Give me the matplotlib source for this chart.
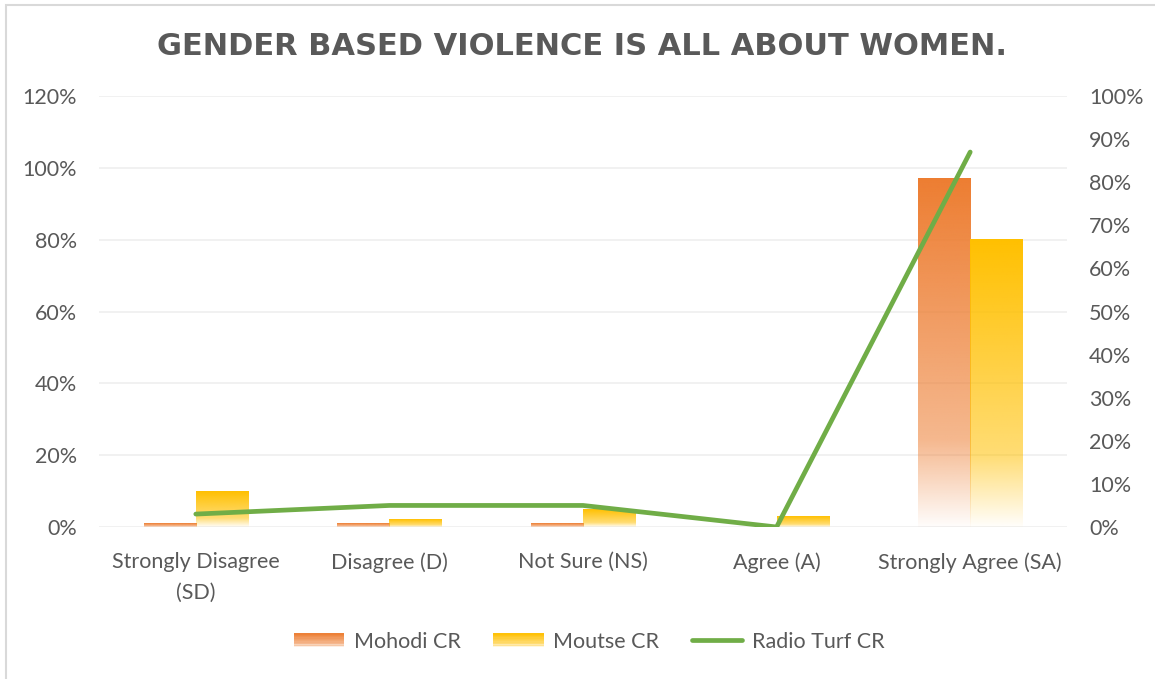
import numpy as np
import matplotlib
matplotlib.use("Agg")
import matplotlib.pyplot as plt
from matplotlib.patches import Rectangle
from matplotlib.legend_handler import HandlerBase
from matplotlib.lines import Line2D
from matplotlib.colors import to_rgb

# Survey responses
categories = ["Strongly Disagree\n(SD)", "Disagree (D)", "Not Sure (NS)", "Agree (A)", "Strongly Agree (SA)"]
mohodi = [0.01, 0.01, 0.01, 0.0, 0.97]
moutse = [0.10, 0.02, 0.05, 0.03, 0.80]
radio_turf = [0.03, 0.05, 0.05, 0.0, 0.87]

left_ticks = [0, 0.2, 0.4, 0.6, 0.8, 1.0, 1.2]
right_ticks = [0, 0.1, 0.2, 0.3, 0.4, 0.5, 0.6, 0.7, 0.8, 0.9, 1.0]

ORANGE = "#ED7D31"
GOLD = "#FFC000"
GREEN = "#70AD47"
TEXT = "#595959"
GRID = "#EFEFEF"
FONT = "Lato"
FS = 15.5


def fade(t):
    """Opacity of the bar fill, t = 0 at the top, 1 at the base."""
    t = np.asarray(t)
    return np.where(t < 0.75, 1.0 - 0.45 * t / 0.75, 0.55 - 0.53 * (t - 0.75) / 0.25)


def gradient_image(color, n=200):
    rgb = to_rgb(color)
    t = np.linspace(0, 1, n)
    img = np.zeros((n, 1, 4))
    img[:, 0, :3] = rgb
    img[:, 0, 3] = fade(t)
    return img


class GradientHandler(HandlerBase):
    def __init__(self, color):
        super().__init__()
        self.color = color

    def create_artists(self, legend, orig_handle, xdescent, ydescent,
                       width, height, fontsize, trans):
        arts = []
        n = 10
        for i in range(n):
            t = (i + 0.5) / n
            y = -ydescent + height * (1 - (i + 1) / n)
            r = Rectangle((-xdescent, y), width, height / n + 0.05,
                          facecolor=self.color, alpha=float(fade(t)),
                          edgecolor="none", transform=trans)
            arts.append(r)
        return arts


fig = plt.figure(figsize=(11.55, 6.79), dpi=100)
ax = fig.add_axes([99 / 1155, 1 - 527 / 679, (1067 - 99) / 1155, (527 - 96) / 679])
ax2 = ax.twinx()

x = np.arange(len(categories))
w = 0.27
bars1 = ax.bar(x - w / 2, mohodi, w, facecolor="none", edgecolor="none")
bars2 = ax.bar(x + w / 2, moutse, w, facecolor="none", edgecolor="none")

for bars, color in ((bars1, ORANGE), (bars2, GOLD)):
    img = gradient_image(color)
    for b in bars:
        h = b.get_height()
        if h <= 0:
            continue
        x0 = b.get_x()
        ax.imshow(img, extent=[x0, x0 + b.get_width(), 0, h], aspect="auto",
                  interpolation="bilinear", zorder=2)

ax.set_xlim(-0.5, len(categories) - 0.5)
ax.set_ylim(0, 1.2)
ax.set_yticks(left_ticks)
ax.set_yticklabels([f"{int(round(v * 100))}%" for v in left_ticks])
ax.yaxis.grid(True, color=GRID, linewidth=1.2)
ax.set_axisbelow(True)
ax.set_xticks(x)
ax.set_xticklabels(categories, linespacing=1.65)

ax2.plot(x, radio_turf, color=GREEN, linewidth=3.4, solid_capstyle="round",
         solid_joinstyle="miter", zorder=3)
ax2.set_ylim(0, 1.0)
ax2.set_yticks(right_ticks)
ax2.set_yticklabels([f"{int(round(v * 100))}%" for v in right_ticks])

for a in (ax, ax2):
    for s in a.spines.values():
        s.set_visible(False)
    a.tick_params(length=0, colors=TEXT, labelsize=FS)
    for lbl in a.get_xticklabels() + a.get_yticklabels():
        lbl.set_fontfamily(FONT)
ax.tick_params(axis="y", pad=16)
ax2.tick_params(axis="y", pad=16)
ax.tick_params(axis="x", pad=18)

fig.text(0.504, 0.932, "GENDER BASED VIOLENCE IS ALL ABOUT WOMEN.",
         ha="center", va="center", fontsize=22, fontweight="bold",
         color=TEXT, family="DejaVu Sans")

handles = [Rectangle((0, 0), 1, 1), Rectangle((0, 0), 1, 1),
           Line2D([0], [0], color=GREEN, linewidth=3.4, solid_capstyle="round")]
leg = fig.legend(handles, ["Mohodi CR", "Moutse CR", "Radio Turf CR"],
                 loc="center", bbox_to_anchor=(0.51, 0.055), ncol=3,
                 frameon=False, handlelength=2.35, handleheight=0.6,
                 columnspacing=1.5, handletextpad=0.45,
                 prop={"family": FONT, "size": FS},
                 handler_map={handles[0]: GradientHandler(ORANGE),
                              handles[1]: GradientHandler(GOLD)})
for t in leg.get_texts():
    t.set_color(TEXT)

# chart frame
fig.patches.append(Rectangle((6 / 1155, -0.01), 1.2, 1 - 5 / 679 + 0.01,
                             transform=fig.transFigure, fill=False,
                             edgecolor="#D9D9D9", linewidth=1.5))

fig.savefig("out.png", dpi=100)
